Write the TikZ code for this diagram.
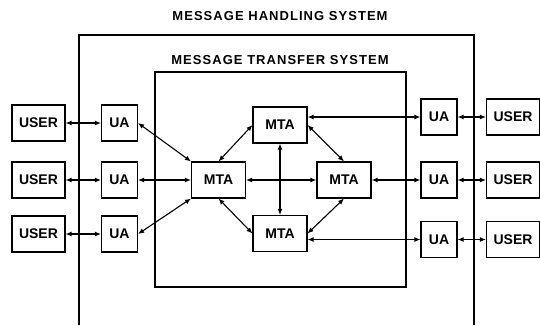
\documentclass[tikz,border=0pt]{standalone}
\usepackage{fontspec}
\setmainfont{Liberation Sans}
\usetikzlibrary{arrows.meta}

\begin{document}
\begin{tikzpicture}[
            x=1pt, y=-1pt,
            box/.style={
              draw,
              line width=1.1pt,
              minimum height=36pt,
              inner sep=0pt,
              font=\fontsize{14}{16}\selectfont\bfseries,
            },
            user/.style={box, minimum width=53pt},
            ua/.style={box, minimum width=36pt},
            mta/.style={box, minimum width=54pt},
            title/.style={
              inner sep=0pt,
              font=\fontsize{13}{15}\selectfont\bfseries\addfontfeature{LetterSpace=8},
            },
            line width=1.1pt,
            >={Latex[length=6pt,width=5pt]},
          ]
          \useasboundingbox (0,0) rectangle (540,325) ;
          \node[title] at (280,16) (mhs) {MESSAGE HANDLING SYSTEM} ;
          \node[title] at (280,60) (mts) {MESSAGE TRANSFER SYSTEM} ;
          \draw[line width=1.3pt] (79,325) -- (79,35) -- (474,35) -- (474,325) ;
          \draw[line width=1.3pt] (155,72) rectangle (406,287) ;
          % left users and agents
          \node[user] at (38.5,123) (ls1) {USER} ;
          \node[user] at (38.5,180) (ls2) {USER} ;
          \node[user] at (38.5,234) (ls3) {USER} ;
          \node[ua] at (119.5,123) (la1) {UA} ;
          \node[ua] at (119.5,180) (la2) {UA} ;
          \node[ua] at (119.5,234) (la3) {UA} ;
          % transfer agents
          \node[mta] at (218.5,180) (mL) {MTA} ;
          \node[mta] at (280,125) (mT) {MTA} ;
          \node[mta] at (280,233.5) (mB) {MTA} ;
          \node[mta] at (344,180) (mR) {MTA} ;
          % right agents and users
          \node[ua] at (439,117) (ra1) {UA} ;
          \node[ua] at (439,180) (ra2) {UA} ;
          \node[ua] at (439,239.5) (ra3) {UA} ;
          \node[user] at (513,117) (rs1) {USER} ;
          \node[user] at (513,180) (rs2) {USER} ;
          \node[user] at (513,239.5) (rs3) {USER} ;
          \draw[<->] (ls1)--(la1) ;
          \draw[<->] (ls2)--(la2) ;
          \draw[<->] (ls3)--(la3) ;
          \draw[<->] (la1.east)--(mL.north west) ;
          \draw[<->] (la2)--(mL) ;
          \draw[<->] (la3.east)--(mL.south west) ;
          \draw[<->] (mL.north)--(mT.west) ;
          \draw[<->] (mT.east)--(mR.north) ;
          \draw[<->] (mL.south)--(mB.west) ;
          \draw[<->] (mR.south)--(mB.east) ;
          \draw[<->] (mL)--(mR) ;
          \draw[<->] (mT)--(mB) ;
          \draw[<->] (mT.east |- ra1)--(ra1) ;
          \draw[<->] (mR)--(ra2) ;
          \draw[<->] (mB.east |- ra3)--(ra3) ;
          \draw[<->] (ra1)--(rs1) ;
          \draw[<->] (ra2)--(rs2) ;
          \draw[<->] (ra3)--(rs3) ;
          \end{tikzpicture}
\end{document}
